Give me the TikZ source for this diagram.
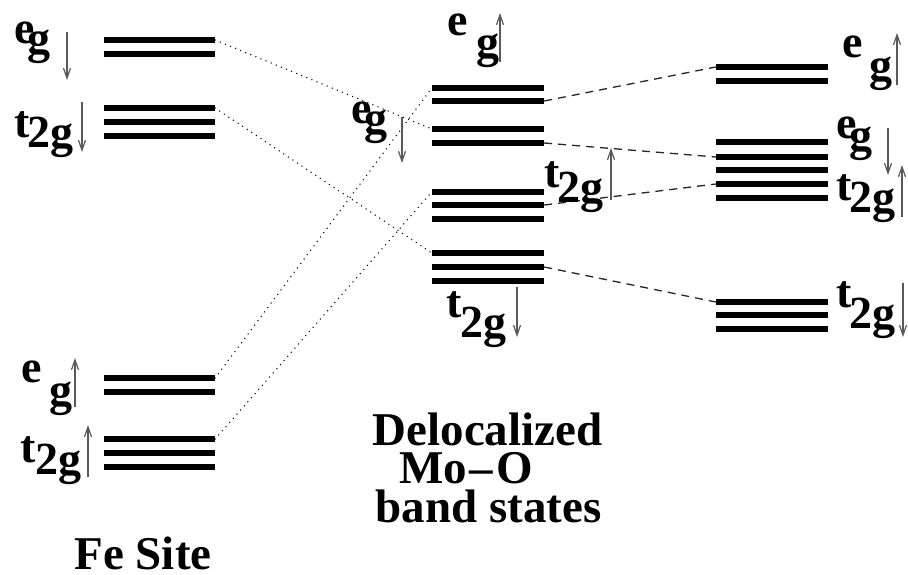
\documentclass[tikz,border=0pt]{standalone}
\usepackage{fontspec}
\setmainfont{Liberation Serif}
\usetikzlibrary{arrows.meta}
% first glyph, horizontal offset of the second part, its vertical shift, second part
\newcommand\splitlab[4]{\rlap{#1}\kern#2pt\raisebox{#3pt}{#4}}
\begin{document}
\begin{tikzpicture}[x=1pt,y=-1pt,
  level/.style={fill=black, inner sep=0pt, minimum height=5.5pt, minimum width=112pt},
  felevel/.style={level, minimum width=111pt},
  lab/.style={anchor=base west, inner sep=0pt, font=\fontsize{46}{46}\selectfont\bfseries},
  title/.style={anchor=base, inner sep=0pt, text depth=0pt, font=\fontsize{47}{47}\selectfont\bfseries},
  spin/.style={draw=black!65, line width=1.2pt, -{Straight Barb[length=10pt,width=7pt]}},
  dotline/.style={black, line width=1.5pt, line cap=round, dash pattern=on 0pt off 5.5pt},
  dashline/.style={black!85, line width=1.3pt, dash pattern=on 8pt off 6pt},
]
\useasboundingbox (0,0) rectangle (908,574);

% energy levels: Fe site, Mo-O bands, resulting states
\foreach \y [count=\i] in {40,54,108,122,136,378,392,439,453,467}
  \node[felevel] (fe\i) at (159.5,\y) {};
\foreach \y [count=\i] in {88,101,129,143,192,205,219,253,267,281}
  \node[level] (mo\i) at (488,\y) {};
\foreach \y [count=\i] in {67,81,142,157,170,184,198,302,315,329}
  \node[level] (rs\i) at (772,\y) {};

% Fe levels to band states
\draw[dotline] (fe1.east) -- (mo3.west);
\draw[dotline] (fe3.east) -- (mo8.west);
\draw[dotline] (fe6.east) -- (mo1.west);
\draw[dotline] (fe8.east) -- (mo5.west);

% band states to resulting states
\draw[dashline] (mo2.east) -- (rs1.west);
\draw[dashline] (mo4.east) -- (rs4.west);
\draw[dashline] (mo6.east) -- (rs6.west);
\draw[dashline] (mo9.east) -- (rs8.west);

% Fe site labels
\node[lab] (fe-egdn) at (14,43) {\splitlab{e}{13}{-10}{g}};
\draw[spin] (67,32) -- (67,80);
\node[lab] (fe-t2gdn) at (14,137) {\splitlab{t}{13}{-10}{2g}};
\draw[spin] (82,102) -- (82,152);
\node[lab] (fe-egup) at (21,382) {\splitlab{e}{28}{-23}{g}};
\draw[spin] (75,407) -- (75,358);
\node[lab] (fe-t2gup) at (20,462) {\splitlab{t}{15}{-12}{2g}};
\draw[spin] (88,477) -- (88,425);

% band state labels
\node[lab] (mo-egup) at (447,35) {\splitlab{e}{29}{-22}{g}};
\draw[spin] (500,62) -- (500,13);
\node[lab] (mo-egdn) at (351,123) {\splitlab{e}{13}{-10}{g}};
\draw[spin] (402,117) -- (402,163);
\node[lab] (mo-t2gup) at (544,187) {\splitlab{t}{13}{-15}{2g}};
\draw[spin] (611,200) -- (611,148);
\node[lab] (mo-t2gdn) at (446,317) {\splitlab{t}{14}{-20}{2g}};
\draw[spin] (517,287) -- (517,337);

% resulting state labels
\node[lab] (rs-egup) at (842,57) {\splitlab{e}{27}{-23}{g}};
\draw[spin] (897,85) -- (897,33);
\node[lab] (rs-egdn) at (836,138) {\splitlab{e}{13}{-12}{g}};
\draw[spin] (888,128) -- (888,175);
\node[lab] (rs-t2gup) at (836,200) {\splitlab{t}{13}{-12}{2g}};
\draw[spin] (902,217) -- (902,165);
\node[lab] (rs-t2gdn) at (836,307) {\splitlab{t}{13}{-21}{2g}};
\draw[spin] (903,283) -- (903,337);

% captions
\node[title] (deloc) at (487.5,445) {Delocalized};
\node[title] (moo) at (466,483) {Mo\kern3pt--\kern3ptO};
\node[title] (band) at (488.5,522) {band states};
\node[title] (fesite) at (143,569) {Fe Site};
\end{tikzpicture}
\end{document}
